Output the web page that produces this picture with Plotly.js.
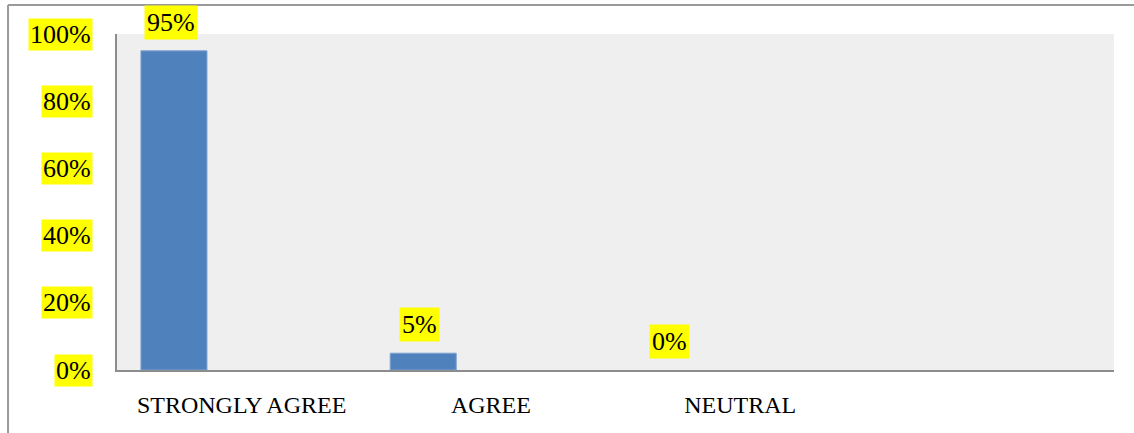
<!DOCTYPE html>
<html>
<head>
<meta charset="utf-8">
<script src="https://cdn.plot.ly/plotly-3.0.1.min.js"></script>
<style>html,body{margin:0;padding:0;background:#fff;}#chart{width:1134px;height:433px;}</style>
</head>
<body>
<div id="chart"></div>
<script>
const categories = ["STRONGLY AGREE", "AGREE", "NEUTRAL"];
const values = [95, 5, 0];
const valueLabels = ["95%", "5%", "0%"];
const tickValues = [0, 20, 40, 60, 80, 100];
const tickLabels = ["0%", "20%", "40%", "60%", "80%", "100%"];

const FONT = "Liberation Serif, DejaVu Serif, serif";
const annotations = [];
tickValues.forEach((v, i) => {
  annotations.push({
    xref: "paper", yref: "y", x: 0, y: v, xanchor: "right", yanchor: "middle",
    xshift: -24, text: tickLabels[i], showarrow: false, bgcolor: "#FFFF00",
    borderpad: 1, font: {family: FONT, size: 26, color: "#000"}
  });
});
categories.forEach((c, i) => {
  annotations.push({
    xref: "x", yref: "y", x: c, y: values[i], xanchor: "center", yanchor: "bottom",
    xshift: -71, yshift: 11, text: valueLabels[i], showarrow: false, bgcolor: "#FFFF00",
    borderpad: 2, font: {family: FONT, size: 26, color: "#000"}
  });
});

const trace = {
  type: "bar", x: categories, y: values,
  width: 0.265, offset: -0.404,
  marker: {color: "#4F81BD", line: {color: "#7FA3D0", width: values.map(v => v > 0 ? 1 : 0)}},
  hoverinfo: "none"
};

const layout = {
  width: 1134, height: 433,
  margin: {l: 117, r: 20, t: 34, b: 63},
  paper_bgcolor: "#FFFFFF", plot_bgcolor: "#EFEFEF",
  showlegend: false,
  xaxis: {
    type: "category", range: [-0.5, 3.5], showgrid: false, zeroline: false,
    showline: true, linecolor: "#8C8C8C", linewidth: 2, ticks: "",
    tickfont: {family: FONT, size: 24, color: "#000"}, ticklabelstandoff: 12
  },
  yaxis: {
    range: [0, 100], showgrid: false, zeroline: false, showline: true,
    linecolor: "#8C8C8C", linewidth: 2, showticklabels: false, ticks: "",
    tickvals: tickValues
  },
  annotations: annotations,
  shapes: [
    {type: "line", xref: "paper", yref: "paper", x0: -0.1093, x1: -0.1093, y0: 1.0863, y1: -0.19,
     line: {color: "#9A9A9A", width: 2}},
    {type: "line", xref: "paper", yref: "paper", x0: -0.1093, x1: 1.03, y0: 1.0863, y1: 1.0863,
     line: {color: "#9A9A9A", width: 2}}
  ]
};

Plotly.newPlot("chart", [trace], layout, {displayModeBar: false, staticPlot: true});
</script>
</body>
</html>
